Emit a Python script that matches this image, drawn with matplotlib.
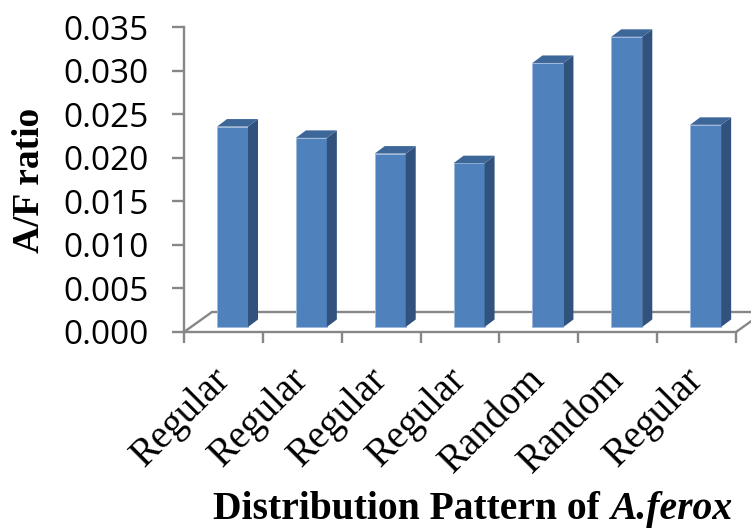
import matplotlib
matplotlib.use("Agg")
import matplotlib.pyplot as plt

patterns = ["Regular", "Regular", "Regular", "Regular", "Random", "Random", "Regular"]
af_ratio = [0.0230, 0.0217, 0.0199, 0.0188, 0.0303, 0.0333, 0.0232]
yticks = [0.000, 0.005, 0.010, 0.015, 0.020, 0.025, 0.030, 0.035]

W, H = 751, 529
fig = plt.figure(figsize=(W / 100, H / 100), dpi=100)
ax = fig.add_axes([184 / W, 197 / H, 552 / W, 305 / H])
ax.set_xlim(0, len(patterns))
ax.set_ylim(0, 0.035)

# pixel -> data units, used for the fake 3d depth
ux = len(patterns) / 552
uy = 0.035 / 305

grey = "#878787"
front = "#4F81BD"
side = "#30527D"
top = "#3D6699"

# floor (front edge is the bottom spine)
fdx, fdy = 28 * ux, 20 * uy
n = len(patterns)
ax.plot([0, fdx, n + fdx], [0, fdy, fdy], color=grey, lw=1.7, clip_on=False, zorder=1)
ax.plot([n, n + fdx], [0, fdy], color=grey, lw=1.7, clip_on=False, zorder=1)

# columns: front face + side + top
off, bw, base = 33 * ux, 31 * ux, 5 * uy
sdx, sdy = 10 * ux, 7.5 * uy
for i, v in enumerate(af_ratio):
    x0 = i + off
    x1 = x0 + bw
    ax.bar(x0, v, width=bw, bottom=base, align="edge", color=front,
           edgecolor="#9DB9DC", linewidth=0.6, zorder=3)
    ax.fill([x1, x1 + sdx, x1 + sdx, x1], [base, base + sdy, base + v + sdy, base + v],
            color=side, zorder=3, lw=0)
    ax.fill([x0, x0 + sdx, x1 + sdx, x1], [base + v, base + v + sdy, base + v + sdy, base + v],
            color=top, zorder=3, lw=0)

for s in ["top", "right"]:
    ax.spines[s].set_visible(False)
for s in ["left", "bottom"]:
    ax.spines[s].set_color(grey)
    ax.spines[s].set_linewidth(1.7)

ax.set_xticks(range(n + 1))
ax.set_xticklabels([])
ax.tick_params(axis="x", direction="out", length=8, width=1.7, color=grey)

ax.set_yticks(yticks)
ax.set_yticklabels(["%.3f" % t for t in yticks], fontfamily="Open Sans", fontsize=24)
ax.tick_params(axis="y", direction="out", length=8.5, width=1.7, color=grey, pad=17)

for i, lab in enumerate(patterns):
    ax.annotate(lab, xy=(i + 0.5, 0), xycoords="data", xytext=(10, -21),
                textcoords="offset points", rotation=45, ha="right", va="top",
                fontfamily="Liberation Serif", fontsize=28)

fig.text(29.5 / W, 1 - 180 / H, "A/F ratio", rotation=90, ha="center", va="center",
         fontfamily="Liberation Serif", fontweight="bold", fontsize=27)

t1 = fig.text(213 / W, 10 / H, "Distribution Pattern of", ha="left", va="baseline",
              fontfamily="Liberation Serif", fontweight="bold", fontsize=28.5)
ax.annotate("A.ferox", xy=(1, 0), xycoords=t1, xytext=(7, 0), textcoords="offset points",
            ha="left", va="bottom", fontfamily="Liberation Serif", fontweight="bold",
            fontstyle="italic", fontsize=28.5, annotation_clip=False)

fig.savefig("out.png", dpi=100)
